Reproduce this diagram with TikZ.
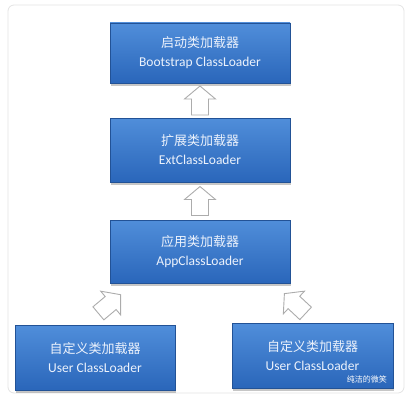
\documentclass[tikz,border=0pt]{standalone}
\usepackage{fontspec}
\setmainfont{Carlito}
\newfontfamily\cjk{Noto Sans CJK SC}
\usetikzlibrary{positioning,calc,shadows}
\definecolor{boxtop}{RGB}{80,142,218}
\definecolor{boxbot}{RGB}{42,102,186}
\definecolor{boxline}{RGB}{34,82,150}
\definecolor{boxtext}{RGB}{236,242,252}
\tikzset{
  loadernode/.style={draw=boxline, line width=0.6pt, top color=boxtop, bottom color=boxbot,
    text=boxtext, align=center, inner sep=0pt, font=\fontsize{13.5}{19}\selectfont,
    drop shadow={shadow xshift=1pt, shadow yshift=-2.5pt, opacity=0.45}},
  arrowline/.style={draw=gray!65, fill=white, line width=0.9pt, line join=miter},
  hollowarrow/.pic={
    \path[arrowline] (-8.5,-14.5) -- (8.5,-14.5) -- (8.5,1.5) -- (15.5,1.5) -- (0,14.5)
      -- (-15.5,1.5) -- (-8.5,1.5) -- cycle;
  },
  frame/.style={draw=gray!22, line width=0.8pt, rounded corners=6pt},
  markfont/.style={font=\fontsize{8}{9}\selectfont, text=white}
}

\begin{document}
\begin{tikzpicture}[x=1pt, y=1pt]
  \useasboundingbox (0,0) rectangle (411,400);
  \draw[frame] (8,7) rectangle (404,395);

  \node[loadernode, minimum width=180pt, minimum height=60pt] (boot) at (200,347)
    {{\cjk\fontsize{13}{15}\selectfont 启动类加载器}\\Bootstrap ClassLoader};
  \node[loadernode, minimum width=180pt, minimum height=64pt] (ext) at (200,250)
    {{\cjk\fontsize{13}{15}\selectfont 扩展类加载器}\\ExtClassLoader};
  \node[loadernode, minimum width=180pt, minimum height=63pt] (app) at (200,148.5)
    {{\cjk\fontsize{13}{15}\selectfont 应用类加载器}\\AppClassLoader};
  \node[loadernode, minimum width=160pt, minimum height=65pt] (user1) at (95,42.5)
    {{\cjk\fontsize{13}{15}\selectfont 自定义类加载器}\\User ClassLoader};
  \node[loadernode, minimum width=161pt, minimum height=65pt] (user2) at (312.5,44.5)
    {{\cjk\fontsize{13}{15}\selectfont 自定义类加载器}\\User ClassLoader};

  % hollow arrows
  \path ($(boot.south)!0.5!(ext.north)$) pic {hollowarrow};
  \path ($(ext.south)!0.5!(app.north)$) pic {hollowarrow};
  \path (109.5,96) pic[rotate=-50] {hollowarrow};
  \path (295,96.5) pic[rotate=47] {hollowarrow};

  \node[markfont, anchor=east] (mark) at (user2.south east) [yshift=9pt, xshift=-3pt] {{\cjk 纯洁的微笑}};
\end{tikzpicture}
\end{document}
